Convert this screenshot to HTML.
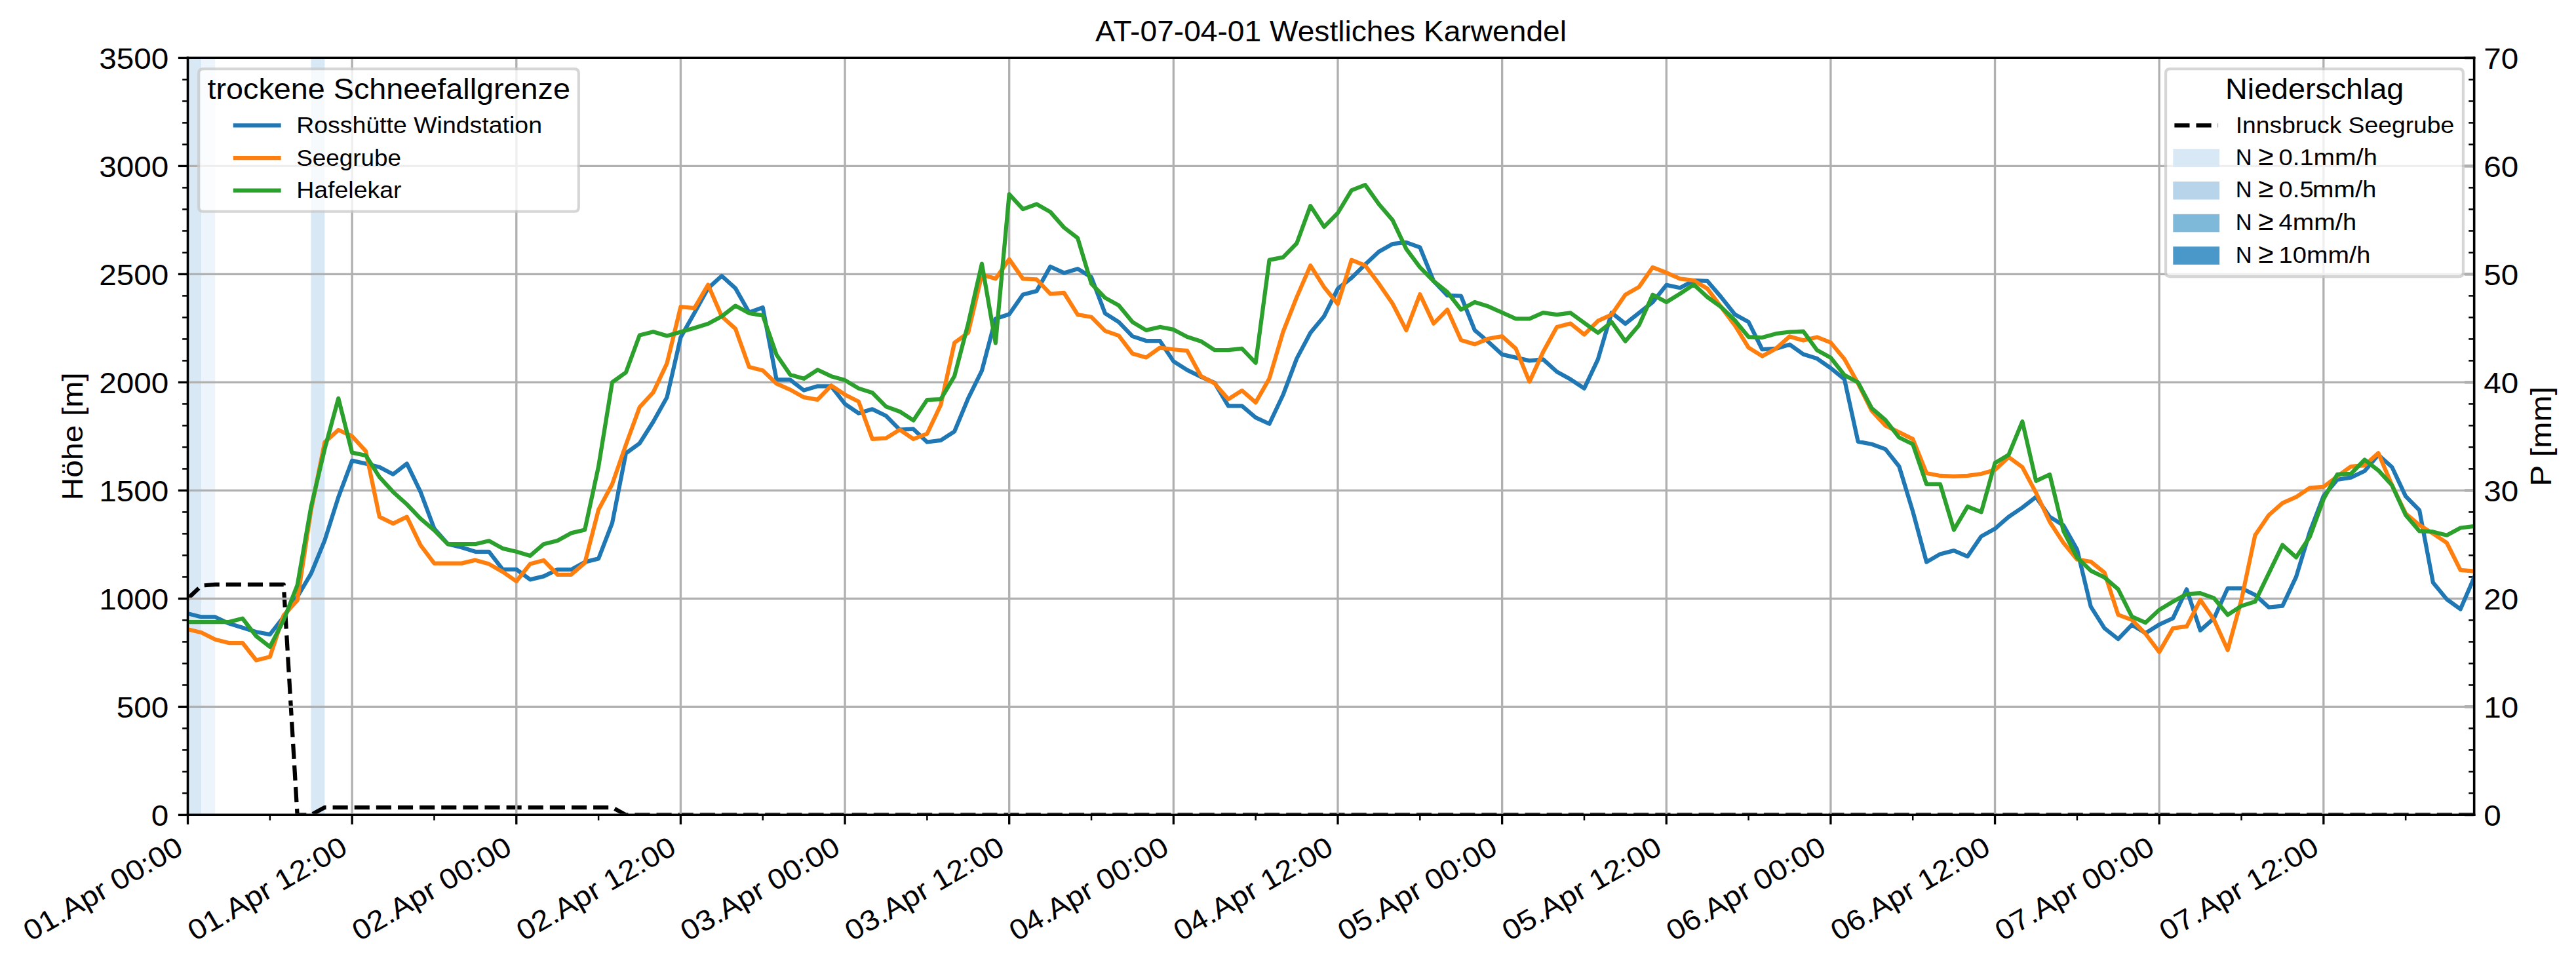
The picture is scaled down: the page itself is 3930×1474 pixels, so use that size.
<!DOCTYPE html>
<html><head><meta charset="utf-8"><title>AT-07-04-01 Westliches Karwendel</title>
<style>html,body{margin:0;padding:0;background:#fff;width:3930px;height:1474px;overflow:hidden}body{font-family:"Liberation Sans",sans-serif}</style>
</head><body>
<svg width="3930" height="1474" viewBox="0 0 943.2 353.76" style="display:block"> <defs> <style type="text/css">*{stroke-linejoin: round; stroke-linecap: butt}</style> </defs> <g id="figure_1"> <g id="patch_1"> <path d="M 0 353.76 L 943.2 353.76 L 943.2 0 L 0 0 z " style="fill: #ffffff"/> </g> <g id="axes_1"> <g id="patch_2"> <path d="M 68.76 298.416 L 73.772838 298.416 L 73.772838 21.216 L 68.76 21.216 z " clip-path="url(#p45edc84bf5)" style="fill: #d9e8f5"/> </g> <g id="patch_3"> <path d="M 73.772838 298.416 L 78.785677 298.416 L 78.785677 21.216 L 73.772838 21.216 z " clip-path="url(#p45edc84bf5)" style="fill: #eef4fb"/> </g> <g id="patch_4"> <path d="M 113.875545 298.416 L 118.888383 298.416 L 118.888383 21.216 L 113.875545 21.216 z " clip-path="url(#p45edc84bf5)" style="fill: #d9e8f5"/> </g> <g id="matplotlib.axis_1"> <g id="ytick_1"> <g id="line2d_1"> <defs> <path id="m1e18287966" d="M 0 0 L -3.5 0 " style="stroke: #b0b0b0; stroke-width: 1.1"/> </defs> <g> <use href="#m1e18287966" x="905.904" y="298.416" style="fill: #b0b0b0; stroke: #b0b0b0; stroke-width: 1.1"/> </g> </g> <g id="text_1"> <text style="font-size: 10.500px; font-family: 'Liberation Sans', sans-serif; text-anchor: start" x="909.404" y="302.376" transform="rotate(-0 909.404 302.376)" textLength="6.363" lengthAdjust="spacingAndGlyphs">0</text> </g> </g> <g id="ytick_2"> <g id="line2d_2"> <g> <use href="#m1e18287966" x="905.904" y="258.816" style="fill: #b0b0b0; stroke: #b0b0b0; stroke-width: 1.1"/> </g> </g> <g id="text_2"> <text style="font-size: 10.500px; font-family: 'Liberation Sans', sans-serif; text-anchor: start" x="909.404" y="262.776" transform="rotate(-0 909.404 262.776)" textLength="12.725" lengthAdjust="spacingAndGlyphs">10</text> </g> </g> <g id="ytick_3"> <g id="line2d_3"> <g> <use href="#m1e18287966" x="905.904" y="219.216" style="fill: #b0b0b0; stroke: #b0b0b0; stroke-width: 1.1"/> </g> </g> <g id="text_3"> <text style="font-size: 10.500px; font-family: 'Liberation Sans', sans-serif; text-anchor: start" x="909.404" y="223.176" transform="rotate(-0 909.404 223.176)" textLength="12.725" lengthAdjust="spacingAndGlyphs">20</text> </g> </g> <g id="ytick_4"> <g id="line2d_4"> <g> <use href="#m1e18287966" x="905.904" y="179.616" style="fill: #b0b0b0; stroke: #b0b0b0; stroke-width: 1.1"/> </g> </g> <g id="text_4"> <text style="font-size: 10.500px; font-family: 'Liberation Sans', sans-serif; text-anchor: start" x="909.404" y="183.576" transform="rotate(-0 909.404 183.576)" textLength="12.725" lengthAdjust="spacingAndGlyphs">30</text> </g> </g> <g id="ytick_5"> <g id="line2d_5"> <g> <use href="#m1e18287966" x="905.904" y="140.016" style="fill: #b0b0b0; stroke: #b0b0b0; stroke-width: 1.1"/> </g> </g> <g id="text_5"> <text style="font-size: 10.500px; font-family: 'Liberation Sans', sans-serif; text-anchor: start" x="909.404" y="143.976" transform="rotate(-0 909.404 143.976)" textLength="12.725" lengthAdjust="spacingAndGlyphs">40</text> </g> </g> <g id="ytick_6"> <g id="line2d_6"> <g> <use href="#m1e18287966" x="905.904" y="100.416" style="fill: #b0b0b0; stroke: #b0b0b0; stroke-width: 1.1"/> </g> </g> <g id="text_6"> <text style="font-size: 10.500px; font-family: 'Liberation Sans', sans-serif; text-anchor: start" x="909.404" y="104.376" transform="rotate(-0 909.404 104.376)" textLength="12.725" lengthAdjust="spacingAndGlyphs">50</text> </g> </g> <g id="ytick_7"> <g id="line2d_7"> <g> <use href="#m1e18287966" x="905.904" y="60.816" style="fill: #b0b0b0; stroke: #b0b0b0; stroke-width: 1.1"/> </g> </g> <g id="text_7"> <text style="font-size: 10.500px; font-family: 'Liberation Sans', sans-serif; text-anchor: start" x="909.404" y="64.776" transform="rotate(-0 909.404 64.776)" textLength="12.725" lengthAdjust="spacingAndGlyphs">60</text> </g> </g> <g id="ytick_8"> <g id="line2d_8"> <g> <use href="#m1e18287966" x="905.904" y="21.216" style="fill: #b0b0b0; stroke: #b0b0b0; stroke-width: 1.1"/> </g> </g> <g id="text_8"> <text style="font-size: 10.500px; font-family: 'Liberation Sans', sans-serif; text-anchor: start" x="909.404" y="25.176" transform="rotate(-0 909.404 25.176)" textLength="12.725" lengthAdjust="spacingAndGlyphs">70</text> </g> </g> <g id="ytick_9"> <g id="line2d_9"> <defs> <path id="m353c5a86b0" d="M 0 0 L -2 0 " style="stroke: #000000; stroke-width: 0.6"/> </defs> <g> <use href="#m353c5a86b0" x="905.904" y="290.496" style="stroke: #000000; stroke-width: 0.6"/> </g> </g> </g> <g id="ytick_10"> <g id="line2d_10"> <g> <use href="#m353c5a86b0" x="905.904" y="282.576" style="stroke: #000000; stroke-width: 0.6"/> </g> </g> </g> <g id="ytick_11"> <g id="line2d_11"> <g> <use href="#m353c5a86b0" x="905.904" y="274.656" style="stroke: #000000; stroke-width: 0.6"/> </g> </g> </g> <g id="ytick_12"> <g id="line2d_12"> <g> <use href="#m353c5a86b0" x="905.904" y="266.736" style="stroke: #000000; stroke-width: 0.6"/> </g> </g> </g> <g id="ytick_13"> <g id="line2d_13"> <g> <use href="#m353c5a86b0" x="905.904" y="250.896" style="stroke: #000000; stroke-width: 0.6"/> </g> </g> </g> <g id="ytick_14"> <g id="line2d_14"> <g> <use href="#m353c5a86b0" x="905.904" y="242.976" style="stroke: #000000; stroke-width: 0.6"/> </g> </g> </g> <g id="ytick_15"> <g id="line2d_15"> <g> <use href="#m353c5a86b0" x="905.904" y="235.056" style="stroke: #000000; stroke-width: 0.6"/> </g> </g> </g> <g id="ytick_16"> <g id="line2d_16"> <g> <use href="#m353c5a86b0" x="905.904" y="227.136" style="stroke: #000000; stroke-width: 0.6"/> </g> </g> </g> <g id="ytick_17"> <g id="line2d_17"> <g> <use href="#m353c5a86b0" x="905.904" y="211.296" style="stroke: #000000; stroke-width: 0.6"/> </g> </g> </g> <g id="ytick_18"> <g id="line2d_18"> <g> <use href="#m353c5a86b0" x="905.904" y="203.376" style="stroke: #000000; stroke-width: 0.6"/> </g> </g> </g> <g id="ytick_19"> <g id="line2d_19"> <g> <use href="#m353c5a86b0" x="905.904" y="195.456" style="stroke: #000000; stroke-width: 0.6"/> </g> </g> </g> <g id="ytick_20"> <g id="line2d_20"> <g> <use href="#m353c5a86b0" x="905.904" y="187.536" style="stroke: #000000; stroke-width: 0.6"/> </g> </g> </g> <g id="ytick_21"> <g id="line2d_21"> <g> <use href="#m353c5a86b0" x="905.904" y="171.696" style="stroke: #000000; stroke-width: 0.6"/> </g> </g> </g> <g id="ytick_22"> <g id="line2d_22"> <g> <use href="#m353c5a86b0" x="905.904" y="163.776" style="stroke: #000000; stroke-width: 0.6"/> </g> </g> </g> <g id="ytick_23"> <g id="line2d_23"> <g> <use href="#m353c5a86b0" x="905.904" y="155.856" style="stroke: #000000; stroke-width: 0.6"/> </g> </g> </g> <g id="ytick_24"> <g id="line2d_24"> <g> <use href="#m353c5a86b0" x="905.904" y="147.936" style="stroke: #000000; stroke-width: 0.6"/> </g> </g> </g> <g id="ytick_25"> <g id="line2d_25"> <g> <use href="#m353c5a86b0" x="905.904" y="132.096" style="stroke: #000000; stroke-width: 0.6"/> </g> </g> </g> <g id="ytick_26"> <g id="line2d_26"> <g> <use href="#m353c5a86b0" x="905.904" y="124.176" style="stroke: #000000; stroke-width: 0.6"/> </g> </g> </g> <g id="ytick_27"> <g id="line2d_27"> <g> <use href="#m353c5a86b0" x="905.904" y="116.256" style="stroke: #000000; stroke-width: 0.6"/> </g> </g> </g> <g id="ytick_28"> <g id="line2d_28"> <g> <use href="#m353c5a86b0" x="905.904" y="108.336" style="stroke: #000000; stroke-width: 0.6"/> </g> </g> </g> <g id="ytick_29"> <g id="line2d_29"> <g> <use href="#m353c5a86b0" x="905.904" y="92.496" style="stroke: #000000; stroke-width: 0.6"/> </g> </g> </g> <g id="ytick_30"> <g id="line2d_30"> <g> <use href="#m353c5a86b0" x="905.904" y="84.576" style="stroke: #000000; stroke-width: 0.6"/> </g> </g> </g> <g id="ytick_31"> <g id="line2d_31"> <g> <use href="#m353c5a86b0" x="905.904" y="76.656" style="stroke: #000000; stroke-width: 0.6"/> </g> </g> </g> <g id="ytick_32"> <g id="line2d_32"> <g> <use href="#m353c5a86b0" x="905.904" y="68.736" style="stroke: #000000; stroke-width: 0.6"/> </g> </g> </g> <g id="ytick_33"> <g id="line2d_33"> <g> <use href="#m353c5a86b0" x="905.904" y="52.896" style="stroke: #000000; stroke-width: 0.6"/> </g> </g> </g> <g id="ytick_34"> <g id="line2d_34"> <g> <use href="#m353c5a86b0" x="905.904" y="44.976" style="stroke: #000000; stroke-width: 0.6"/> </g> </g> </g> <g id="ytick_35"> <g id="line2d_35"> <g> <use href="#m353c5a86b0" x="905.904" y="37.056" style="stroke: #000000; stroke-width: 0.6"/> </g> </g> </g> <g id="ytick_36"> <g id="line2d_36"> <g> <use href="#m353c5a86b0" x="905.904" y="29.136" style="stroke: #000000; stroke-width: 0.6"/> </g> </g> </g> <g id="text_9"> <text style="font-size: 10.500px; font-family: 'Liberation Sans', sans-serif; text-anchor: middle" x="934.074" y="159.816" transform="rotate(-90 934.074 159.816)" textLength="36.492" lengthAdjust="spacingAndGlyphs">P [mm]</text> </g> </g> <g id="line2d_37"> <path d="M 68.76 219.216 L 73.772838 214.464 L 78.785677 214.068 L 103.849868 214.068 L 108.862707 298.416 L 113.875545 298.416 L 118.888383 295.6836 L 224.157988 295.6836 L 229.170826 298.416 L 905.904 298.416 L 905.904 298.416 " clip-path="url(#p45edc84bf5)" style="fill: none; stroke-dasharray: 5.55,2.4; stroke-dashoffset: 0; stroke: #000000; stroke-width: 1.5"/> </g> <g id="patch_5"> <path d="M 68.76 298.416 L 68.76 21.216 " style="fill: none; stroke: #000000; stroke-width: 0.8; stroke-linejoin: miter; stroke-linecap: square"/> </g> <g id="patch_6"> <path d="M 905.904 298.416 L 905.904 21.216 " style="fill: none; stroke: #000000; stroke-width: 0.8; stroke-linejoin: miter; stroke-linecap: square"/> </g> <g id="patch_7"> <path d="M 68.76 298.416 L 905.904 298.416 " style="fill: none; stroke: #000000; stroke-width: 0.8; stroke-linejoin: miter; stroke-linecap: square"/> </g> <g id="patch_8"> <path d="M 68.76 21.216 L 905.904 21.216 " style="fill: none; stroke: #000000; stroke-width: 0.8; stroke-linejoin: miter; stroke-linecap: square"/> </g> </g> <g id="axes_2"> <g id="matplotlib.axis_2"> <g id="xtick_1"> <g id="line2d_38"> <path d="M 68.76 298.416 L 68.76 21.216 " clip-path="url(#p45edc84bf5)" style="fill: none; stroke: #b0b0b0; stroke-width: 0.8; stroke-linecap: square"/> </g> <g id="line2d_39"> <defs> <path id="m7c25c535dc" d="M 0 0 L 0 3.5 " style="stroke: #000000; stroke-width: 0.8"/> </defs> <g> <use href="#m7c25c535dc" x="68.76" y="298.416" style="stroke: #000000; stroke-width: 0.8"/> </g> </g> <g id="text_10"> <text style="font-size: 10.500px; font-family: 'Liberation Sans', sans-serif" transform="translate(11.249785 344.854921) rotate(-30)" textLength="65.200" lengthAdjust="spacingAndGlyphs">01.Apr 00:00</text> </g> </g> <g id="xtick_2"> <g id="line2d_40"> <path d="M 128.91406 298.416 L 128.91406 21.216 " clip-path="url(#p45edc84bf5)" style="fill: none; stroke: #b0b0b0; stroke-width: 0.8; stroke-linecap: square"/> </g> <g id="line2d_41"> <g> <use href="#m7c25c535dc" x="128.91406" y="298.416" style="stroke: #000000; stroke-width: 0.8"/> </g> </g> <g id="text_11"> <text style="font-size: 10.500px; font-family: 'Liberation Sans', sans-serif" transform="translate(71.429825 344.839921) rotate(-30)" textLength="65.200" lengthAdjust="spacingAndGlyphs">01.Apr 12:00</text> </g> </g> <g id="xtick_3"> <g id="line2d_42"> <path d="M 189.06812 298.416 L 189.06812 21.216 " clip-path="url(#p45edc84bf5)" style="fill: none; stroke: #b0b0b0; stroke-width: 0.8; stroke-linecap: square"/> </g> <g id="line2d_43"> <g> <use href="#m7c25c535dc" x="189.06812" y="298.416" style="stroke: #000000; stroke-width: 0.8"/> </g> </g> <g id="text_12"> <text style="font-size: 10.500px; font-family: 'Liberation Sans', sans-serif" transform="translate(131.583885 344.839921) rotate(-30)" textLength="65.200" lengthAdjust="spacingAndGlyphs">02.Apr 00:00</text> </g> </g> <g id="xtick_4"> <g id="line2d_44"> <path d="M 249.22218 298.416 L 249.22218 21.216 " clip-path="url(#p45edc84bf5)" style="fill: none; stroke: #b0b0b0; stroke-width: 0.8; stroke-linecap: square"/> </g> <g id="line2d_45"> <g> <use href="#m7c25c535dc" x="249.22218" y="298.416" style="stroke: #000000; stroke-width: 0.8"/> </g> </g> <g id="text_13"> <text style="font-size: 10.500px; font-family: 'Liberation Sans', sans-serif" transform="translate(191.763926 344.824921) rotate(-30)" textLength="65.200" lengthAdjust="spacingAndGlyphs">02.Apr 12:00</text> </g> </g> <g id="xtick_5"> <g id="line2d_46"> <path d="M 309.37624 298.416 L 309.37624 21.216 " clip-path="url(#p45edc84bf5)" style="fill: none; stroke: #b0b0b0; stroke-width: 0.8; stroke-linecap: square"/> </g> <g id="line2d_47"> <g> <use href="#m7c25c535dc" x="309.37624" y="298.416" style="stroke: #000000; stroke-width: 0.8"/> </g> </g> <g id="text_14"> <text style="font-size: 10.500px; font-family: 'Liberation Sans', sans-serif" transform="translate(251.840043 344.869921) rotate(-30)" textLength="65.200" lengthAdjust="spacingAndGlyphs">03.Apr 00:00</text> </g> </g> <g id="xtick_6"> <g id="line2d_48"> <path d="M 369.530299 298.416 L 369.530299 21.216 " clip-path="url(#p45edc84bf5)" style="fill: none; stroke: #b0b0b0; stroke-width: 0.8; stroke-linecap: square"/> </g> <g id="line2d_49"> <g> <use href="#m7c25c535dc" x="369.530299" y="298.416" style="stroke: #000000; stroke-width: 0.8"/> </g> </g> <g id="text_15"> <text style="font-size: 10.500px; font-family: 'Liberation Sans', sans-serif" transform="translate(312.020084 344.854921) rotate(-30)" textLength="65.200" lengthAdjust="spacingAndGlyphs">03.Apr 12:00</text> </g> </g> <g id="xtick_7"> <g id="line2d_50"> <path d="M 429.684359 298.416 L 429.684359 21.216 " clip-path="url(#p45edc84bf5)" style="fill: none; stroke: #b0b0b0; stroke-width: 0.8; stroke-linecap: square"/> </g> <g id="line2d_51"> <g> <use href="#m7c25c535dc" x="429.684359" y="298.416" style="stroke: #000000; stroke-width: 0.8"/> </g> </g> <g id="text_16"> <text style="font-size: 10.500px; font-family: 'Liberation Sans', sans-serif" transform="translate(372.174144 344.854921) rotate(-30)" textLength="65.200" lengthAdjust="spacingAndGlyphs">04.Apr 00:00</text> </g> </g> <g id="xtick_8"> <g id="line2d_52"> <path d="M 489.838419 298.416 L 489.838419 21.216 " clip-path="url(#p45edc84bf5)" style="fill: none; stroke: #b0b0b0; stroke-width: 0.8; stroke-linecap: square"/> </g> <g id="line2d_53"> <g> <use href="#m7c25c535dc" x="489.838419" y="298.416" style="stroke: #000000; stroke-width: 0.8"/> </g> </g> <g id="text_17"> <text style="font-size: 10.500px; font-family: 'Liberation Sans', sans-serif" transform="translate(432.354185 344.839921) rotate(-30)" textLength="65.200" lengthAdjust="spacingAndGlyphs">04.Apr 12:00</text> </g> </g> <g id="xtick_9"> <g id="line2d_54"> <path d="M 549.992479 298.416 L 549.992479 21.216 " clip-path="url(#p45edc84bf5)" style="fill: none; stroke: #b0b0b0; stroke-width: 0.8; stroke-linecap: square"/> </g> <g id="line2d_55"> <g> <use href="#m7c25c535dc" x="549.992479" y="298.416" style="stroke: #000000; stroke-width: 0.8"/> </g> </g> <g id="text_18"> <text style="font-size: 10.500px; font-family: 'Liberation Sans', sans-serif" transform="translate(492.482264 344.854921) rotate(-30)" textLength="65.200" lengthAdjust="spacingAndGlyphs">05.Apr 00:00</text> </g> </g> <g id="xtick_10"> <g id="line2d_56"> <path d="M 610.146539 298.416 L 610.146539 21.216 " clip-path="url(#p45edc84bf5)" style="fill: none; stroke: #b0b0b0; stroke-width: 0.8; stroke-linecap: square"/> </g> <g id="line2d_57"> <g> <use href="#m7c25c535dc" x="610.146539" y="298.416" style="stroke: #000000; stroke-width: 0.8"/> </g> </g> <g id="text_19"> <text style="font-size: 10.500px; font-family: 'Liberation Sans', sans-serif" transform="translate(552.662304 344.839921) rotate(-30)" textLength="65.200" lengthAdjust="spacingAndGlyphs">05.Apr 12:00</text> </g> </g> <g id="xtick_11"> <g id="line2d_58"> <path d="M 670.300599 298.416 L 670.300599 21.216 " clip-path="url(#p45edc84bf5)" style="fill: none; stroke: #b0b0b0; stroke-width: 0.8; stroke-linecap: square"/> </g> <g id="line2d_59"> <g> <use href="#m7c25c535dc" x="670.300599" y="298.416" style="stroke: #000000; stroke-width: 0.8"/> </g> </g> <g id="text_20"> <text style="font-size: 10.500px; font-family: 'Liberation Sans', sans-serif" transform="translate(612.790383 344.854921) rotate(-30)" textLength="65.200" lengthAdjust="spacingAndGlyphs">06.Apr 00:00</text> </g> </g> <g id="xtick_12"> <g id="line2d_60"> <path d="M 730.454659 298.416 L 730.454659 21.216 " clip-path="url(#p45edc84bf5)" style="fill: none; stroke: #b0b0b0; stroke-width: 0.8; stroke-linecap: square"/> </g> <g id="line2d_61"> <g> <use href="#m7c25c535dc" x="730.454659" y="298.416" style="stroke: #000000; stroke-width: 0.8"/> </g> </g> <g id="text_21"> <text style="font-size: 10.500px; font-family: 'Liberation Sans', sans-serif" transform="translate(672.970424 344.839921) rotate(-30)" textLength="65.200" lengthAdjust="spacingAndGlyphs">06.Apr 12:00</text> </g> </g> <g id="xtick_13"> <g id="line2d_62"> <path d="M 790.608719 298.416 L 790.608719 21.216 " clip-path="url(#p45edc84bf5)" style="fill: none; stroke: #b0b0b0; stroke-width: 0.8; stroke-linecap: square"/> </g> <g id="line2d_63"> <g> <use href="#m7c25c535dc" x="790.608719" y="298.416" style="stroke: #000000; stroke-width: 0.8"/> </g> </g> <g id="text_22"> <text style="font-size: 10.500px; font-family: 'Liberation Sans', sans-serif" transform="translate(733.124484 344.839921) rotate(-30)" textLength="65.200" lengthAdjust="spacingAndGlyphs">07.Apr 00:00</text> </g> </g> <g id="xtick_14"> <g id="line2d_64"> <path d="M 850.762778 298.416 L 850.762778 21.216 " clip-path="url(#p45edc84bf5)" style="fill: none; stroke: #b0b0b0; stroke-width: 0.8; stroke-linecap: square"/> </g> <g id="line2d_65"> <g> <use href="#m7c25c535dc" x="850.762778" y="298.416" style="stroke: #000000; stroke-width: 0.8"/> </g> </g> <g id="text_23"> <text style="font-size: 10.500px; font-family: 'Liberation Sans', sans-serif" transform="translate(793.304525 344.824921) rotate(-30)" textLength="65.200" lengthAdjust="spacingAndGlyphs">07.Apr 12:00</text> </g> </g> <g id="xtick_15"> <g id="line2d_66"> <defs> <path id="m0d65b069a9" d="M 0 0 L 0 2 " style="stroke: #000000; stroke-width: 0.6"/> </defs> <g> <use href="#m0d65b069a9" x="98.83703" y="298.416" style="stroke: #000000; stroke-width: 0.6"/> </g> </g> </g> <g id="xtick_16"> <g id="line2d_67"> <g> <use href="#m0d65b069a9" x="158.99109" y="298.416" style="stroke: #000000; stroke-width: 0.6"/> </g> </g> </g> <g id="xtick_17"> <g id="line2d_68"> <g> <use href="#m0d65b069a9" x="219.14515" y="298.416" style="stroke: #000000; stroke-width: 0.6"/> </g> </g> </g> <g id="xtick_18"> <g id="line2d_69"> <g> <use href="#m0d65b069a9" x="279.29921" y="298.416" style="stroke: #000000; stroke-width: 0.6"/> </g> </g> </g> <g id="xtick_19"> <g id="line2d_70"> <g> <use href="#m0d65b069a9" x="339.453269" y="298.416" style="stroke: #000000; stroke-width: 0.6"/> </g> </g> </g> <g id="xtick_20"> <g id="line2d_71"> <g> <use href="#m0d65b069a9" x="399.607329" y="298.416" style="stroke: #000000; stroke-width: 0.6"/> </g> </g> </g> <g id="xtick_21"> <g id="line2d_72"> <g> <use href="#m0d65b069a9" x="459.761389" y="298.416" style="stroke: #000000; stroke-width: 0.6"/> </g> </g> </g> <g id="xtick_22"> <g id="line2d_73"> <g> <use href="#m0d65b069a9" x="519.915449" y="298.416" style="stroke: #000000; stroke-width: 0.6"/> </g> </g> </g> <g id="xtick_23"> <g id="line2d_74"> <g> <use href="#m0d65b069a9" x="580.069509" y="298.416" style="stroke: #000000; stroke-width: 0.6"/> </g> </g> </g> <g id="xtick_24"> <g id="line2d_75"> <g> <use href="#m0d65b069a9" x="640.223569" y="298.416" style="stroke: #000000; stroke-width: 0.6"/> </g> </g> </g> <g id="xtick_25"> <g id="line2d_76"> <g> <use href="#m0d65b069a9" x="700.377629" y="298.416" style="stroke: #000000; stroke-width: 0.6"/> </g> </g> </g> <g id="xtick_26"> <g id="line2d_77"> <g> <use href="#m0d65b069a9" x="760.531689" y="298.416" style="stroke: #000000; stroke-width: 0.6"/> </g> </g> </g> <g id="xtick_27"> <g id="line2d_78"> <g> <use href="#m0d65b069a9" x="820.685749" y="298.416" style="stroke: #000000; stroke-width: 0.6"/> </g> </g> </g> <g id="xtick_28"> <g id="line2d_79"> <g> <use href="#m0d65b069a9" x="880.839808" y="298.416" style="stroke: #000000; stroke-width: 0.6"/> </g> </g> </g> </g> <g id="matplotlib.axis_3"> <g id="ytick_37"> <g id="line2d_80"> <path d="M 68.76 298.416 L 905.904 298.416 " clip-path="url(#p45edc84bf5)" style="fill: none; stroke: #b0b0b0; stroke-width: 0.8; stroke-linecap: square"/> </g> <g id="line2d_81"> <defs> <path id="mb258c49b38" d="M 0 0 L -3.5 0 " style="stroke: #000000; stroke-width: 0.8"/> </defs> <g> <use href="#mb258c49b38" x="68.76" y="298.416" style="stroke: #000000; stroke-width: 0.8"/> </g> </g> <g id="text_24"> <text style="font-size: 10.500px; font-family: 'Liberation Sans', sans-serif; text-anchor: end" x="61.76" y="302.376" transform="rotate(-0 61.76 302.376)" textLength="6.363" lengthAdjust="spacingAndGlyphs">0</text> </g> </g> <g id="ytick_38"> <g id="line2d_82"> <path d="M 68.76 258.816 L 905.904 258.816 " clip-path="url(#p45edc84bf5)" style="fill: none; stroke: #b0b0b0; stroke-width: 0.8; stroke-linecap: square"/> </g> <g id="line2d_83"> <g> <use href="#mb258c49b38" x="68.76" y="258.816" style="stroke: #000000; stroke-width: 0.8"/> </g> </g> <g id="text_25"> <text style="font-size: 10.500px; font-family: 'Liberation Sans', sans-serif; text-anchor: end" x="61.76" y="262.776" transform="rotate(-0 61.76 262.776)" textLength="19.088" lengthAdjust="spacingAndGlyphs">500</text> </g> </g> <g id="ytick_39"> <g id="line2d_84"> <path d="M 68.76 219.216 L 905.904 219.216 " clip-path="url(#p45edc84bf5)" style="fill: none; stroke: #b0b0b0; stroke-width: 0.8; stroke-linecap: square"/> </g> <g id="line2d_85"> <g> <use href="#mb258c49b38" x="68.76" y="219.216" style="stroke: #000000; stroke-width: 0.8"/> </g> </g> <g id="text_26"> <text style="font-size: 10.500px; font-family: 'Liberation Sans', sans-serif; text-anchor: end" x="61.76" y="223.176" transform="rotate(-0 61.76 223.176)" textLength="25.450" lengthAdjust="spacingAndGlyphs">1000</text> </g> </g> <g id="ytick_40"> <g id="line2d_86"> <path d="M 68.76 179.616 L 905.904 179.616 " clip-path="url(#p45edc84bf5)" style="fill: none; stroke: #b0b0b0; stroke-width: 0.8; stroke-linecap: square"/> </g> <g id="line2d_87"> <g> <use href="#mb258c49b38" x="68.76" y="179.616" style="stroke: #000000; stroke-width: 0.8"/> </g> </g> <g id="text_27"> <text style="font-size: 10.500px; font-family: 'Liberation Sans', sans-serif; text-anchor: end" x="61.76" y="183.576" transform="rotate(-0 61.76 183.576)" textLength="25.450" lengthAdjust="spacingAndGlyphs">1500</text> </g> </g> <g id="ytick_41"> <g id="line2d_88"> <path d="M 68.76 140.016 L 905.904 140.016 " clip-path="url(#p45edc84bf5)" style="fill: none; stroke: #b0b0b0; stroke-width: 0.8; stroke-linecap: square"/> </g> <g id="line2d_89"> <g> <use href="#mb258c49b38" x="68.76" y="140.016" style="stroke: #000000; stroke-width: 0.8"/> </g> </g> <g id="text_28"> <text style="font-size: 10.500px; font-family: 'Liberation Sans', sans-serif; text-anchor: end" x="61.76" y="143.976" transform="rotate(-0 61.76 143.976)" textLength="25.450" lengthAdjust="spacingAndGlyphs">2000</text> </g> </g> <g id="ytick_42"> <g id="line2d_90"> <path d="M 68.76 100.416 L 905.904 100.416 " clip-path="url(#p45edc84bf5)" style="fill: none; stroke: #b0b0b0; stroke-width: 0.8; stroke-linecap: square"/> </g> <g id="line2d_91"> <g> <use href="#mb258c49b38" x="68.76" y="100.416" style="stroke: #000000; stroke-width: 0.8"/> </g> </g> <g id="text_29"> <text style="font-size: 10.500px; font-family: 'Liberation Sans', sans-serif; text-anchor: end" x="61.76" y="104.376" transform="rotate(-0 61.76 104.376)" textLength="25.450" lengthAdjust="spacingAndGlyphs">2500</text> </g> </g> <g id="ytick_43"> <g id="line2d_92"> <path d="M 68.76 60.816 L 905.904 60.816 " clip-path="url(#p45edc84bf5)" style="fill: none; stroke: #b0b0b0; stroke-width: 0.8; stroke-linecap: square"/> </g> <g id="line2d_93"> <g> <use href="#mb258c49b38" x="68.76" y="60.816" style="stroke: #000000; stroke-width: 0.8"/> </g> </g> <g id="text_30"> <text style="font-size: 10.500px; font-family: 'Liberation Sans', sans-serif; text-anchor: end" x="61.76" y="64.776" transform="rotate(-0 61.76 64.776)" textLength="25.450" lengthAdjust="spacingAndGlyphs">3000</text> </g> </g> <g id="ytick_44"> <g id="line2d_94"> <path d="M 68.76 21.216 L 905.904 21.216 " clip-path="url(#p45edc84bf5)" style="fill: none; stroke: #b0b0b0; stroke-width: 0.8; stroke-linecap: square"/> </g> <g id="line2d_95"> <g> <use href="#mb258c49b38" x="68.76" y="21.216" style="stroke: #000000; stroke-width: 0.8"/> </g> </g> <g id="text_31"> <text style="font-size: 10.500px; font-family: 'Liberation Sans', sans-serif; text-anchor: end" x="61.76" y="25.176" transform="rotate(-0 61.76 25.176)" textLength="25.450" lengthAdjust="spacingAndGlyphs">3500</text> </g> </g> <g id="ytick_45"> <g id="line2d_96"> <g> <use href="#m353c5a86b0" x="68.76" y="290.496" style="stroke: #000000; stroke-width: 0.6"/> </g> </g> </g> <g id="ytick_46"> <g id="line2d_97"> <g> <use href="#m353c5a86b0" x="68.76" y="282.576" style="stroke: #000000; stroke-width: 0.6"/> </g> </g> </g> <g id="ytick_47"> <g id="line2d_98"> <g> <use href="#m353c5a86b0" x="68.76" y="274.656" style="stroke: #000000; stroke-width: 0.6"/> </g> </g> </g> <g id="ytick_48"> <g id="line2d_99"> <g> <use href="#m353c5a86b0" x="68.76" y="266.736" style="stroke: #000000; stroke-width: 0.6"/> </g> </g> </g> <g id="ytick_49"> <g id="line2d_100"> <g> <use href="#m353c5a86b0" x="68.76" y="250.896" style="stroke: #000000; stroke-width: 0.6"/> </g> </g> </g> <g id="ytick_50"> <g id="line2d_101"> <g> <use href="#m353c5a86b0" x="68.76" y="242.976" style="stroke: #000000; stroke-width: 0.6"/> </g> </g> </g> <g id="ytick_51"> <g id="line2d_102"> <g> <use href="#m353c5a86b0" x="68.76" y="235.056" style="stroke: #000000; stroke-width: 0.6"/> </g> </g> </g> <g id="ytick_52"> <g id="line2d_103"> <g> <use href="#m353c5a86b0" x="68.76" y="227.136" style="stroke: #000000; stroke-width: 0.6"/> </g> </g> </g> <g id="ytick_53"> <g id="line2d_104"> <g> <use href="#m353c5a86b0" x="68.76" y="211.296" style="stroke: #000000; stroke-width: 0.6"/> </g> </g> </g> <g id="ytick_54"> <g id="line2d_105"> <g> <use href="#m353c5a86b0" x="68.76" y="203.376" style="stroke: #000000; stroke-width: 0.6"/> </g> </g> </g> <g id="ytick_55"> <g id="line2d_106"> <g> <use href="#m353c5a86b0" x="68.76" y="195.456" style="stroke: #000000; stroke-width: 0.6"/> </g> </g> </g> <g id="ytick_56"> <g id="line2d_107"> <g> <use href="#m353c5a86b0" x="68.76" y="187.536" style="stroke: #000000; stroke-width: 0.6"/> </g> </g> </g> <g id="ytick_57"> <g id="line2d_108"> <g> <use href="#m353c5a86b0" x="68.76" y="171.696" style="stroke: #000000; stroke-width: 0.6"/> </g> </g> </g> <g id="ytick_58"> <g id="line2d_109"> <g> <use href="#m353c5a86b0" x="68.76" y="163.776" style="stroke: #000000; stroke-width: 0.6"/> </g> </g> </g> <g id="ytick_59"> <g id="line2d_110"> <g> <use href="#m353c5a86b0" x="68.76" y="155.856" style="stroke: #000000; stroke-width: 0.6"/> </g> </g> </g> <g id="ytick_60"> <g id="line2d_111"> <g> <use href="#m353c5a86b0" x="68.76" y="147.936" style="stroke: #000000; stroke-width: 0.6"/> </g> </g> </g> <g id="ytick_61"> <g id="line2d_112"> <g> <use href="#m353c5a86b0" x="68.76" y="132.096" style="stroke: #000000; stroke-width: 0.6"/> </g> </g> </g> <g id="ytick_62"> <g id="line2d_113"> <g> <use href="#m353c5a86b0" x="68.76" y="124.176" style="stroke: #000000; stroke-width: 0.6"/> </g> </g> </g> <g id="ytick_63"> <g id="line2d_114"> <g> <use href="#m353c5a86b0" x="68.76" y="116.256" style="stroke: #000000; stroke-width: 0.6"/> </g> </g> </g> <g id="ytick_64"> <g id="line2d_115"> <g> <use href="#m353c5a86b0" x="68.76" y="108.336" style="stroke: #000000; stroke-width: 0.6"/> </g> </g> </g> <g id="ytick_65"> <g id="line2d_116"> <g> <use href="#m353c5a86b0" x="68.76" y="92.496" style="stroke: #000000; stroke-width: 0.6"/> </g> </g> </g> <g id="ytick_66"> <g id="line2d_117"> <g> <use href="#m353c5a86b0" x="68.76" y="84.576" style="stroke: #000000; stroke-width: 0.6"/> </g> </g> </g> <g id="ytick_67"> <g id="line2d_118"> <g> <use href="#m353c5a86b0" x="68.76" y="76.656" style="stroke: #000000; stroke-width: 0.6"/> </g> </g> </g> <g id="ytick_68"> <g id="line2d_119"> <g> <use href="#m353c5a86b0" x="68.76" y="68.736" style="stroke: #000000; stroke-width: 0.6"/> </g> </g> </g> <g id="ytick_69"> <g id="line2d_120"> <g> <use href="#m353c5a86b0" x="68.76" y="52.896" style="stroke: #000000; stroke-width: 0.6"/> </g> </g> </g> <g id="ytick_70"> <g id="line2d_121"> <g> <use href="#m353c5a86b0" x="68.76" y="44.976" style="stroke: #000000; stroke-width: 0.6"/> </g> </g> </g> <g id="ytick_71"> <g id="line2d_122"> <g> <use href="#m353c5a86b0" x="68.76" y="37.056" style="stroke: #000000; stroke-width: 0.6"/> </g> </g> </g> <g id="ytick_72"> <g id="line2d_123"> <g> <use href="#m353c5a86b0" x="68.76" y="29.136" style="stroke: #000000; stroke-width: 0.6"/> </g> </g> </g> <g id="text_32"> <text style="font-size: 10.500px; font-family: 'Liberation Sans', sans-serif; text-anchor: middle" x="30.13" y="159.816" transform="rotate(-90 30.13 159.816)" textLength="46.852" lengthAdjust="spacingAndGlyphs">Höhe [m]</text> </g> </g> <g id="line2d_124"> <path d="M 68.76 224.6808 L 73.772838 225.948 L 78.785677 225.948 L 83.798515 228.324 L 93.824192 231.4128 L 98.83703 232.3632 L 103.849868 225.948 L 108.862707 218.5824 L 113.875545 210.108 L 118.888383 197.9112 L 123.901222 182.0712 L 128.91406 168.6864 L 133.926898 169.7952 L 138.939737 171.0624 L 143.952575 173.676 L 148.965413 169.7952 L 153.978251 180.1704 L 158.99109 193.5552 L 164.003928 199.2576 L 169.016766 200.4456 L 174.029605 202.0296 L 179.042443 202.0296 L 184.055281 208.524 L 189.06812 208.524 L 194.080958 212.2464 L 199.093796 211.0584 L 204.106635 208.6032 L 209.119473 208.6032 L 214.132311 205.8312 L 219.14515 204.564 L 224.157988 191.5752 L 229.170826 165.9936 L 234.183665 162.3504 L 239.196503 154.4304 L 244.209341 145.4808 L 249.22218 123.5424 L 254.235018 114.672 L 259.247856 105.564 L 264.260695 101.0496 L 269.273533 105.564 L 274.286371 114.4344 L 279.29921 112.6128 L 284.312048 139.0656 L 289.324886 139.0656 L 294.337725 142.9464 L 299.350563 141.4416 L 304.363401 141.4416 L 309.37624 147.936 L 314.389078 151.3416 L 319.401916 149.8368 L 324.414754 152.292 L 329.427593 157.3608 L 334.440431 157.1232 L 339.453269 161.8752 L 344.466108 161.2416 L 349.478946 157.9944 L 354.491784 145.8768 L 359.504623 135.7392 L 364.517461 116.7312 L 369.530299 115.068 L 374.543138 107.8608 L 379.555976 106.5936 L 384.568814 97.644 L 389.581653 99.9408 L 394.594491 98.436 L 399.607329 101.5248 L 404.620168 114.7512 L 409.633006 117.9192 L 414.645844 123.1464 L 419.658683 124.8096 L 424.671521 124.8096 L 429.684359 132.3336 L 434.697198 135.5016 L 439.710036 137.9568 L 444.722874 140.1744 L 449.735713 148.6488 L 454.748551 148.6488 L 459.761389 152.9256 L 464.774228 155.2224 L 469.787066 144.6096 L 474.799904 131.304 L 479.812743 121.8792 L 484.825581 115.7808 L 489.838419 105.7224 L 494.851257 101.7624 L 499.864096 96.852 L 504.876934 92.1792 L 509.889772 89.328 L 514.902611 88.7736 L 519.915449 90.5952 L 524.928287 102.9504 L 529.941126 108.1776 L 534.953964 108.4152 L 539.966802 120.9288 L 544.979641 125.2056 L 549.992479 129.7992 L 560.018156 132.096 L 565.030994 131.6208 L 570.043832 136.1352 L 575.056671 138.9072 L 580.069509 142.2336 L 585.082347 131.6208 L 590.095186 114.5136 L 595.108024 118.5528 L 605.133701 110.6328 L 610.146539 104.376 L 615.159377 105.4056 L 620.172216 102.7128 L 625.185054 102.9504 L 630.197892 108.8112 L 635.210731 115.1472 L 640.223569 117.9192 L 645.236407 127.9776 L 650.249246 127.6608 L 655.262084 126.156 L 660.274922 129.72 L 665.28776 131.304 L 670.300599 134.7888 L 675.313437 138.828 L 680.326275 161.7168 L 685.339114 162.6672 L 690.351952 164.4888 L 695.36479 170.8248 L 700.377629 187.2984 L 705.390467 205.8312 L 710.403305 202.9008 L 715.416144 201.6336 L 720.428982 203.772 L 725.44182 196.4064 L 730.454659 193.6344 L 735.467497 189.2784 L 740.480335 185.8728 L 745.493174 181.992 L 750.506012 189.2784 L 755.51885 192.3672 L 760.531689 201.2376 L 765.544527 222.1464 L 770.557365 230.0664 L 775.570204 234.0264 L 780.583042 228.7992 L 785.59588 231.888 L 790.608719 228.72 L 795.621557 226.4232 L 800.634395 215.8104 L 805.647234 230.8584 L 810.660072 226.4232 L 815.67291 215.4144 L 820.685749 215.4144 L 825.698587 217.8696 L 830.711425 222.384 L 835.724263 221.9088 L 840.737102 211.2168 L 845.74994 194.7432 L 850.762778 181.6752 L 855.775617 175.656 L 860.788455 174.864 L 865.801293 172.488 L 870.814132 166.548 L 875.82697 171.0624 L 880.839808 181.7544 L 885.852647 186.8232 L 890.865485 213.3552 L 895.878323 219.4536 L 900.891162 223.0968 L 905.904 211.4544 L 905.904 211.4544 " clip-path="url(#p45edc84bf5)" style="fill: none; stroke: #1f77b4; stroke-width: 1.5; stroke-linecap: square"/> </g> <g id="line2d_125"> <path d="M 68.76 230.4624 L 73.772838 231.6504 L 78.785677 234.1848 L 83.798515 235.452 L 88.811353 235.452 L 93.824192 241.788 L 98.83703 240.5208 L 103.849868 225.3144 L 108.862707 219.8496 L 113.875545 186.9024 L 118.888383 161.9544 L 123.901222 157.44 L 128.91406 159.7368 L 133.926898 165.2016 L 138.939737 189.2784 L 143.952575 191.7336 L 148.965413 189.2784 L 153.978251 199.6536 L 158.99109 206.3064 L 169.016766 206.3064 L 174.029605 205.1184 L 179.042443 206.544 L 184.055281 209.3952 L 189.06812 212.88 L 194.080958 206.544 L 199.093796 205.1976 L 204.106635 210.4248 L 209.119473 210.4248 L 214.132311 206.148 L 219.14515 186.6648 L 224.157988 177.3192 L 229.170826 162.9048 L 234.183665 149.124 L 239.196503 143.6592 L 244.209341 133.0464 L 249.22218 112.3752 L 254.235018 112.8504 L 259.247856 104.2968 L 264.260695 115.86 L 269.273533 120.3744 L 274.286371 134.3928 L 279.29921 135.66 L 284.312048 140.4912 L 289.324886 142.7088 L 294.337725 145.4808 L 299.350563 146.352 L 304.363401 141.204 L 309.37624 144.5304 L 314.389078 147.0648 L 319.401916 160.7664 L 324.414754 160.4496 L 329.427593 157.3608 L 334.440431 160.7664 L 339.453269 158.8656 L 344.466108 148.2528 L 349.478946 125.5224 L 354.491784 121.8792 L 359.504623 100.5744 L 364.517461 102.0792 L 369.530299 94.9512 L 374.543138 102.0792 L 379.555976 102.3168 L 384.568814 107.6232 L 389.581653 107.2272 L 394.594491 115.2264 L 399.607329 116.0976 L 404.620168 121.1664 L 409.633006 122.9088 L 414.645844 129.4824 L 419.658683 130.908 L 424.671521 127.344 L 429.684359 127.9776 L 434.697198 128.4528 L 439.710036 137.7192 L 444.722874 140.412 L 449.735713 146.1936 L 454.748551 143.0256 L 459.761389 147.3816 L 464.774228 138.5904 L 469.787066 121.5624 L 474.799904 108.8112 L 479.812743 97.248 L 484.825581 105.168 L 489.838419 111.3456 L 494.851257 95.1888 L 499.864096 97.248 L 504.876934 103.9008 L 509.889772 111.1872 L 514.902611 120.9288 L 519.915449 107.7816 L 524.928287 118.4736 L 529.941126 113.4048 L 534.953964 124.572 L 539.966802 126.0768 L 544.979641 124.0176 L 549.992479 123.1464 L 555.005317 127.6608 L 560.018156 139.7784 L 565.030994 128.8488 L 570.043832 119.7408 L 575.056671 118.4736 L 580.069509 122.5128 L 585.082347 117.5232 L 590.095186 115.2264 L 595.108024 107.94 L 600.120862 105.0888 L 605.133701 97.8816 L 610.146539 99.8616 L 615.159377 102.0792 L 620.172216 102.7128 L 625.185054 105.7224 L 635.210731 119.1072 L 640.223569 127.2648 L 645.236407 130.4328 L 650.249246 127.6608 L 655.262084 123.2256 L 660.274922 124.6512 L 665.28776 123.4632 L 670.300599 125.4432 L 675.313437 131.4624 L 680.326275 140.412 L 685.339114 150.4704 L 690.351952 155.856 L 700.377629 160.7664 L 705.390467 173.28 L 710.403305 174.2304 L 715.416144 174.468 L 720.428982 174.2304 L 725.44182 173.5176 L 730.454659 172.092 L 735.467497 167.4192 L 740.480335 171.0624 L 745.493174 180.4872 L 750.506012 191.1 L 755.51885 198.7824 L 760.531689 204.8808 L 765.544527 205.6728 L 770.557365 209.712 L 775.570204 225.156 L 780.583042 226.9776 L 785.59588 232.1256 L 790.608719 238.7784 L 795.621557 230.0664 L 800.634395 229.4328 L 805.647234 219.6912 L 810.660072 226.9776 L 815.67291 238.0656 L 820.685749 219.6912 L 825.698587 196.0104 L 830.711425 188.6448 L 835.724263 184.2096 L 840.737102 181.992 L 845.74994 178.6656 L 850.762778 178.2696 L 855.775617 174.468 L 860.788455 170.8248 L 865.801293 170.4288 L 870.814132 165.9144 L 875.82697 177.7152 L 880.839808 188.0904 L 885.852647 192.288 L 890.865485 195.3768 L 895.878323 198.7824 L 900.891162 208.7616 L 905.904 209.1576 L 905.904 209.1576 " clip-path="url(#p45edc84bf5)" style="fill: none; stroke: #ff7f0e; stroke-width: 1.5; stroke-linecap: square"/> </g> <g id="line2d_126"> <path d="M 68.76 227.7696 L 83.798515 227.7696 L 88.811353 226.5024 L 93.824192 232.9968 L 98.83703 236.8776 L 103.849868 227.136 L 108.862707 214.3056 L 113.875545 185.7144 L 118.888383 164.4096 L 123.901222 145.8768 L 128.91406 165.756 L 133.926898 166.7856 L 138.939737 174.7056 L 143.952575 180.1704 L 148.965413 184.6848 L 153.978251 189.912 L 158.99109 194.1888 L 164.003928 199.2576 L 174.029605 199.2576 L 179.042443 198.0696 L 184.055281 200.8416 L 189.06812 202.0296 L 194.080958 203.5344 L 199.093796 199.2576 L 204.106635 197.9904 L 209.119473 195.2184 L 214.132311 194.0304 L 219.14515 170.8248 L 224.157988 140.016 L 229.170826 136.3728 L 234.183665 122.7504 L 239.196503 121.4832 L 244.209341 122.988 L 254.235018 120.1368 L 259.247856 118.5528 L 264.260695 115.86 L 269.273533 111.9792 L 274.286371 114.672 L 279.29921 115.5432 L 284.312048 129.8784 L 289.324886 137.244 L 294.337725 138.6696 L 299.350563 135.4224 L 304.363401 137.7984 L 309.37624 139.224 L 314.389078 142.2336 L 319.401916 143.8176 L 324.414754 148.8864 L 329.427593 150.708 L 334.440431 153.9552 L 339.453269 146.4312 L 344.466108 146.1936 L 349.478946 137.7192 L 354.491784 118.5528 L 359.504623 96.6144 L 364.517461 125.6016 L 369.530299 71.112 L 374.543138 76.5768 L 379.555976 74.7552 L 384.568814 77.6064 L 389.581653 83.3088 L 394.594491 87.1896 L 399.607329 103.9008 L 404.620168 109.0488 L 409.633006 111.8208 L 414.645844 117.9192 L 419.658683 120.9288 L 424.671521 119.7408 L 429.684359 120.6912 L 434.697198 123.384 L 439.710036 124.968 L 444.722874 128.2152 L 449.735713 128.2152 L 454.748551 127.6608 L 459.761389 132.888 L 464.774228 95.1888 L 469.787066 94.2384 L 474.799904 89.0904 L 479.812743 75.3888 L 484.825581 83.0712 L 489.838419 78.0024 L 494.851257 69.6864 L 499.864096 67.7064 L 504.876934 74.7552 L 509.889772 80.616 L 514.902611 91.1496 L 519.915449 97.8816 L 524.928287 102.9504 L 529.941126 106.9896 L 534.953964 113.4048 L 539.966802 110.6328 L 544.979641 112.2168 L 555.005317 116.7312 L 560.018156 116.7312 L 565.030994 114.5136 L 570.043832 115.2264 L 575.056671 114.5928 L 585.082347 121.8792 L 590.095186 117.9192 L 595.108024 124.968 L 600.120862 119.1072 L 605.133701 107.94 L 610.146539 110.6328 L 615.159377 107.544 L 620.172216 104.2176 L 625.185054 108.8112 L 630.197892 112.4544 L 635.210731 117.2856 L 640.223569 123.384 L 645.236407 123.6216 L 650.249246 122.196 L 655.262084 121.5624 L 660.274922 121.3248 L 665.28776 128.2152 L 670.300599 130.9872 L 675.313437 137.3232 L 680.326275 140.016 L 685.339114 149.52 L 690.351952 153.7968 L 695.36479 160.212 L 700.377629 162.6672 L 705.390467 177.3192 L 710.403305 177.3192 L 715.416144 194.0304 L 720.428982 185.4768 L 725.44182 187.536 L 730.454659 169.5576 L 735.467497 166.548 L 740.480335 154.3512 L 745.493174 176.1312 L 750.506012 173.7552 L 755.51885 194.4264 L 760.531689 204.168 L 765.544527 208.9992 L 770.557365 211.4544 L 775.570204 215.8104 L 780.583042 225.7896 L 785.59588 228.0072 L 790.608719 223.3344 L 795.621557 220.3248 L 800.634395 217.5528 L 805.647234 217.236 L 810.660072 219.0576 L 815.67291 225.156 L 820.685749 221.9088 L 825.698587 220.3248 L 835.724263 199.5744 L 840.737102 204.0888 L 845.74994 196.5648 L 850.762778 182.784 L 855.775617 173.7552 L 860.788455 173.5176 L 865.801293 168.3696 L 870.814132 172.2504 L 875.82697 177.7152 L 880.839808 188.6448 L 885.852647 194.5056 L 890.865485 194.7432 L 895.878323 196.0104 L 900.891162 193.3176 L 905.904 192.684 L 905.904 192.684 " clip-path="url(#p45edc84bf5)" style="fill: none; stroke: #2ca02c; stroke-width: 1.5; stroke-linecap: square"/> </g> <g id="patch_9"> <path d="M 68.76 298.416 L 68.76 21.216 " style="fill: none; stroke: #000000; stroke-width: 0.8; stroke-linejoin: miter; stroke-linecap: square"/> </g> <g id="patch_10"> <path d="M 905.904 298.416 L 905.904 21.216 " style="fill: none; stroke: #000000; stroke-width: 0.8; stroke-linejoin: miter; stroke-linecap: square"/> </g> <g id="patch_11"> <path d="M 68.76 298.416 L 905.904 298.416 " style="fill: none; stroke: #000000; stroke-width: 0.8; stroke-linejoin: miter; stroke-linecap: square"/> </g> <g id="patch_12"> <path d="M 68.76 21.216 L 905.904 21.216 " style="fill: none; stroke: #000000; stroke-width: 0.8; stroke-linejoin: miter; stroke-linecap: square"/> </g> <g id="text_33"> <text style="font-size: 10.500px; font-family: 'Liberation Sans', sans-serif; text-anchor: middle" x="487.332" y="15.216" transform="rotate(-0 487.332 15.216)" textLength="172.523" lengthAdjust="spacingAndGlyphs">AT-07-04-01 Westliches Karwendel</text> </g> <g id="legend_1"> <g id="patch_13"> <path d="M 74.36 77.456 L 210.28 77.456 Q 211.88 77.456 211.88 75.856 L 211.88 26.816 Q 211.88 25.216 210.28 25.216 L 74.36 25.216 Q 72.76 25.216 72.76 26.816 L 72.76 75.856 Q 72.76 77.456 74.36 77.456 z " style="fill: #ffffff; opacity: 0.8; stroke: #cccccc; stroke-linejoin: miter"/> </g> <g id="text_34"> <text style="font-size: 10.500px; font-family: 'Liberation Sans', sans-serif; text-anchor: start" x="75.96" y="36.336" transform="rotate(-0 75.96 36.336)" textLength="132.833" lengthAdjust="spacingAndGlyphs">trockene Schneefallgrenze</text> </g> <g id="line2d_127"> <path d="M 86.135 45.936 L 94.135 45.936 L 102.135 45.936 " style="fill: none; stroke: #1f77b4; stroke-width: 1.5; stroke-linecap: square"/> </g> <g id="text_35"> <text style="font-size: 8.400px; font-family: 'Liberation Sans', sans-serif; text-anchor: start" x="108.535" y="48.736" transform="rotate(-0 108.535 48.736)" textLength="89.938" lengthAdjust="spacingAndGlyphs">Rosshütte Windstation</text> </g> <g id="line2d_128"> <path d="M 86.135 57.856 L 94.135 57.856 L 102.135 57.856 " style="fill: none; stroke: #ff7f0e; stroke-width: 1.5; stroke-linecap: square"/> </g> <g id="text_36"> <text style="font-size: 8.400px; font-family: 'Liberation Sans', sans-serif; text-anchor: start" x="108.535" y="60.656" transform="rotate(-0 108.535 60.656)" textLength="38.363" lengthAdjust="spacingAndGlyphs">Seegrube</text> </g> <g id="line2d_129"> <path d="M 86.135 69.776 L 94.135 69.776 L 102.135 69.776 " style="fill: none; stroke: #2ca02c; stroke-width: 1.5; stroke-linecap: square"/> </g> <g id="text_37"> <text style="font-size: 8.400px; font-family: 'Liberation Sans', sans-serif; text-anchor: start" x="108.535" y="72.576" transform="rotate(-0 108.535 72.576)" textLength="38.486" lengthAdjust="spacingAndGlyphs">Hafelekar</text> </g> </g> <g id="legend_2"> <g id="patch_14"> <path d="M 794.574 101.296 L 900.304 101.296 Q 901.904 101.296 901.904 99.696 L 901.904 26.816 Q 901.904 25.216 900.304 25.216 L 794.574 25.216 Q 792.974 25.216 792.974 26.816 L 792.974 99.696 Q 792.974 101.296 794.574 101.296 z " style="fill: #ffffff; opacity: 0.8; stroke: #cccccc; stroke-linejoin: miter"/> </g> <g id="text_38"> <text style="font-size: 10.500px; font-family: 'Liberation Sans', sans-serif; text-anchor: start" x="814.829" y="36.336" transform="rotate(-0 814.829 36.336)" textLength="65.325" lengthAdjust="spacingAndGlyphs">Niederschlag</text> </g> <g id="line2d_130"> <path d="M 796.174 45.936 L 804.174 45.936 L 812.174 45.936 " style="fill: none; stroke-dasharray: 5.55,2.4; stroke-dashoffset: 0; stroke: #000000; stroke-width: 1.5"/> </g> <g id="text_39"> <text style="font-size: 8.400px; font-family: 'Liberation Sans', sans-serif; text-anchor: start" x="818.574" y="48.736" transform="rotate(-0 818.574 48.736)" textLength="80.041" lengthAdjust="spacingAndGlyphs">Innsbruck Seegrube</text> </g> <g id="patch_15"> <path d="M 796.174 60.656 L 812.174 60.656 L 812.174 55.056 L 796.174 55.056 z " style="fill: #d9e8f5; stroke: #d9e8f5; stroke-linejoin: miter"/> </g> <g id="text_40"> <!-- N$\geq$0.1mm/h --> <g transform="translate(818.574 60.656)"> <text> <tspan x="0" y="-0.2219" style="font-size: 8.400px; font-family: 'Liberation Sans', sans-serif" textLength="5.984" lengthAdjust="spacingAndGlyphs">N</tspan> <tspan x="8.2602" y="-0.2219" style="font-size: 10.080px; font-family: 'Liberation Sans', sans-serif">≥</tspan> <tspan x="15.804688" y="-0.2219" style="font-size: 8.400px; font-family: 'Liberation Sans', sans-serif" textLength="5.090" lengthAdjust="spacingAndGlyphs">0</tspan> <tspan x="20.894531" y="-0.2219" style="font-size: 8.400px; font-family: 'Liberation Sans', sans-serif" textLength="2.543" lengthAdjust="spacingAndGlyphs">.</tspan> <tspan x="23.4375" y="-0.2219" style="font-size: 8.400px; font-family: 'Liberation Sans', sans-serif" textLength="5.090" lengthAdjust="spacingAndGlyphs">1</tspan> <tspan x="28.527344" y="-0.2219" style="font-size: 8.400px; font-family: 'Liberation Sans', sans-serif" textLength="7.793" lengthAdjust="spacingAndGlyphs">m</tspan> <tspan x="36.320312" y="-0.2219" style="font-size: 8.400px; font-family: 'Liberation Sans', sans-serif" textLength="7.793" lengthAdjust="spacingAndGlyphs">m</tspan> <tspan x="44.113281" y="-0.2219" style="font-size: 8.400px; font-family: 'Liberation Sans', sans-serif" textLength="2.695" lengthAdjust="spacingAndGlyphs">/</tspan> <tspan x="46.808594" y="-0.2219" style="font-size: 8.400px; font-family: 'Liberation Sans', sans-serif" textLength="5.070" lengthAdjust="spacingAndGlyphs">h</tspan> </text> </g> </g> <g id="patch_16"> <path d="M 796.174 72.576 L 812.174 72.576 L 812.174 66.976 L 796.174 66.976 z " style="fill: #b7d4ea; stroke: #b7d4ea; stroke-linejoin: miter"/> </g> <g id="text_41"> <!-- N$\geq$0.5mm/h --> <g transform="translate(818.574 72.576)"> <text> <tspan x="0" y="-0.2219" style="font-size: 8.400px; font-family: 'Liberation Sans', sans-serif" textLength="5.984" lengthAdjust="spacingAndGlyphs">N</tspan> <tspan x="8.2602" y="-0.2219" style="font-size: 10.080px; font-family: 'Liberation Sans', sans-serif">≥</tspan> <tspan x="15.804688" y="-0.2219" style="font-size: 8.400px; font-family: 'Liberation Sans', sans-serif" textLength="5.090" lengthAdjust="spacingAndGlyphs">0</tspan> <tspan x="20.894531" y="-0.2219" style="font-size: 8.400px; font-family: 'Liberation Sans', sans-serif" textLength="2.543" lengthAdjust="spacingAndGlyphs">.</tspan> <tspan x="23.4375" y="-0.2219" style="font-size: 8.400px; font-family: 'Liberation Sans', sans-serif" textLength="5.090" lengthAdjust="spacingAndGlyphs">5</tspan> <tspan x="28.152344" y="-0.2219" style="font-size: 8.400px; font-family: 'Liberation Sans', sans-serif" textLength="7.793" lengthAdjust="spacingAndGlyphs">m</tspan> <tspan x="35.945312" y="-0.2219" style="font-size: 8.400px; font-family: 'Liberation Sans', sans-serif" textLength="7.793" lengthAdjust="spacingAndGlyphs">m</tspan> <tspan x="43.738281" y="-0.2219" style="font-size: 8.400px; font-family: 'Liberation Sans', sans-serif" textLength="2.695" lengthAdjust="spacingAndGlyphs">/</tspan> <tspan x="46.433594" y="-0.2219" style="font-size: 8.400px; font-family: 'Liberation Sans', sans-serif" textLength="5.070" lengthAdjust="spacingAndGlyphs">h</tspan> </text> </g> </g> <g id="patch_17"> <path d="M 796.174 84.496 L 812.174 84.496 L 812.174 78.896 L 796.174 78.896 z " style="fill: #7fb9da; stroke: #7fb9da; stroke-linejoin: miter"/> </g> <g id="text_42"> <!-- N$\geq$4mm/h --> <g transform="translate(818.574 84.496)"> <text> <tspan x="0" y="-0.2219" style="font-size: 8.400px; font-family: 'Liberation Sans', sans-serif" textLength="5.984" lengthAdjust="spacingAndGlyphs">N</tspan> <tspan x="8.2602" y="-0.2219" style="font-size: 10.080px; font-family: 'Liberation Sans', sans-serif">≥</tspan> <tspan x="15.804688" y="-0.2219" style="font-size: 8.400px; font-family: 'Liberation Sans', sans-serif" textLength="5.090" lengthAdjust="spacingAndGlyphs">4</tspan> <tspan x="20.894531" y="-0.2219" style="font-size: 8.400px; font-family: 'Liberation Sans', sans-serif" textLength="7.793" lengthAdjust="spacingAndGlyphs">m</tspan> <tspan x="28.6875" y="-0.2219" style="font-size: 8.400px; font-family: 'Liberation Sans', sans-serif" textLength="7.793" lengthAdjust="spacingAndGlyphs">m</tspan> <tspan x="36.480469" y="-0.2219" style="font-size: 8.400px; font-family: 'Liberation Sans', sans-serif" textLength="2.695" lengthAdjust="spacingAndGlyphs">/</tspan> <tspan x="39.175781" y="-0.2219" style="font-size: 8.400px; font-family: 'Liberation Sans', sans-serif" textLength="5.070" lengthAdjust="spacingAndGlyphs">h</tspan> </text> </g> </g> <g id="patch_18"> <path d="M 796.174 96.416 L 812.174 96.416 L 812.174 90.816 L 796.174 90.816 z " style="fill: #4a98c9; stroke: #4a98c9; stroke-linejoin: miter"/> </g> <g id="text_43"> <!-- N$\geq$10mm/h --> <g transform="translate(818.574 96.416)"> <text> <tspan x="0" y="-0.2219" style="font-size: 8.400px; font-family: 'Liberation Sans', sans-serif" textLength="5.984" lengthAdjust="spacingAndGlyphs">N</tspan> <tspan x="8.2602" y="-0.2219" style="font-size: 10.080px; font-family: 'Liberation Sans', sans-serif">≥</tspan> <tspan x="15.804688" y="-0.2219" style="font-size: 8.400px; font-family: 'Liberation Sans', sans-serif" textLength="5.090" lengthAdjust="spacingAndGlyphs">1</tspan> <tspan x="20.894531" y="-0.2219" style="font-size: 8.400px; font-family: 'Liberation Sans', sans-serif" textLength="5.090" lengthAdjust="spacingAndGlyphs">0</tspan> <tspan x="25.984375" y="-0.2219" style="font-size: 8.400px; font-family: 'Liberation Sans', sans-serif" textLength="7.793" lengthAdjust="spacingAndGlyphs">m</tspan> <tspan x="33.777344" y="-0.2219" style="font-size: 8.400px; font-family: 'Liberation Sans', sans-serif" textLength="7.793" lengthAdjust="spacingAndGlyphs">m</tspan> <tspan x="41.570312" y="-0.2219" style="font-size: 8.400px; font-family: 'Liberation Sans', sans-serif" textLength="2.695" lengthAdjust="spacingAndGlyphs">/</tspan> <tspan x="44.265625" y="-0.2219" style="font-size: 8.400px; font-family: 'Liberation Sans', sans-serif" textLength="5.070" lengthAdjust="spacingAndGlyphs">h</tspan> </text> </g> </g> </g> </g> </g> <defs> <clipPath id="p45edc84bf5"> <rect x="68.76" y="21.216" width="837.144" height="277.2"/> </clipPath> </defs> </svg> 
</body></html>
